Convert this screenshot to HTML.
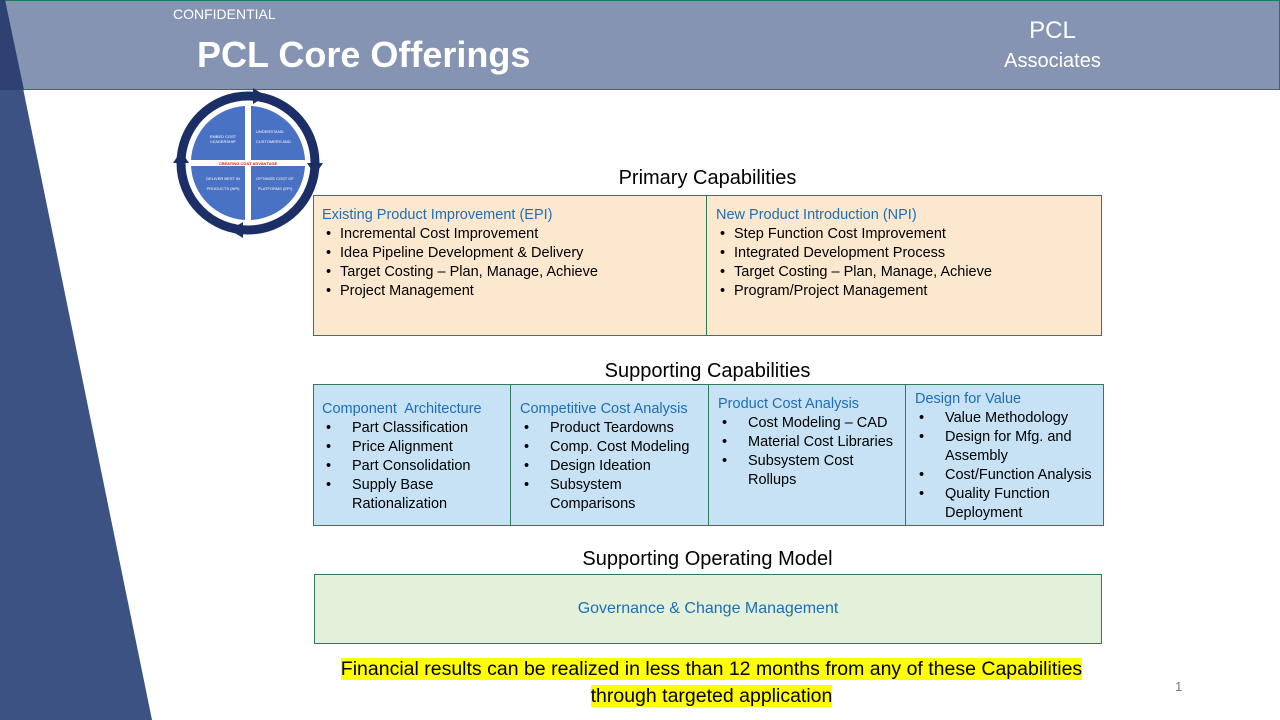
<!DOCTYPE html>
<html><head><meta charset="utf-8"><style>
body{margin:0;width:1280px;height:720px;position:relative;overflow:hidden;background:#fff;font-family:"Liberation Sans",sans-serif;}
.a{position:absolute;}
.box{position:absolute;box-sizing:border-box;border:1px solid #2e7a5a;font-size:14.5px;line-height:19px;color:#000;}
.h{color:#1f6eb5;}
ul{margin:0;padding:0;list-style:none;}
li{position:relative;padding-left:18px;}
li:before{content:"•";position:absolute;left:4px;}
.w li{padding-left:30px;}
.w li:before{left:4px;}
.t{position:absolute;font-size:20px;color:#000;text-align:center;}
</style></head><body>
<div class="a" style="left:0;top:0;width:1280px;height:90px;background:#8594b3;box-sizing:border-box;border:1.5px solid #1e7a5a;"></div>
<svg class="a" style="left:0;top:0" width="1280" height="720">
<polygon points="0,0 5,0 152,720 0,720" fill="#3c5282"/>
<polygon points="0,0 5,0 24,90 0,90" fill="#2d4272"/>
<g transform="translate(248,163)">
<circle r="67" fill="none" stroke="#1b2f66" stroke-width="9"/>
<circle r="61" fill="#fff"/>
<path d="M-3,-3 L-3,-57 A57,57 0 0 0 -57,-3 Z" fill="#4a72c4"/>
<path d="M3,-3 L3,-57 A57,57 0 0 1 57,-3 Z" fill="#4a72c4"/>
<path d="M-3,3 L-3,57 A57,57 0 0 1 -57,3 Z" fill="#4a72c4"/>
<path d="M3,3 L3,57 A57,57 0 0 0 57,3 Z" fill="#4a72c4"/>
<polygon points="5,-75 18,-67 5,-59" fill="#1b2f66"/>
<polygon points="59,0 75,0 67,12" fill="#1b2f66"/>
<polygon points="-5,59 -18,67 -5,75" fill="#1b2f66"/>
<polygon points="-75,0 -59,0 -67,-12" fill="#1b2f66"/>
<text x="0" y="2" font-size="4" fill="#e01010" text-anchor="middle" font-weight="bold">CREATING COST ADVANTAGE</text>
<text x="-25" y="-25" font-size="4" fill="#fff" text-anchor="middle">EMBED COST</text>
<text x="-25" y="-20" font-size="4" fill="#fff" text-anchor="middle">LEADERSHIP</text>
<text x="8" y="-30" font-size="4" fill="#fff">UNDERSTAND</text>
<text x="8" y="-20" font-size="4" fill="#fff">CUSTOMERS AND</text>
<text x="-25" y="17" font-size="4" fill="#fff" text-anchor="middle">DELIVER BEST IN</text>
<text x="-25" y="27" font-size="4" fill="#fff" text-anchor="middle">PRODUCTS (NPI)</text>
<text x="27" y="17" font-size="4" fill="#fff" text-anchor="middle">OPTIMIZE COST OF</text>
<text x="27" y="27" font-size="4" fill="#fff" text-anchor="middle">PLATFORMS (EPI)</text>
</g>
</svg>
<div class="a" style="left:173px;top:6px;color:#fff;font-size:14px;">CONFIDENTIAL</div>
<div class="a" style="left:197px;top:34px;color:#fff;font-size:36px;font-weight:bold;">PCL Core Offerings</div>
<div class="a" style="left:990px;top:17px;width:125px;text-align:center;color:#fff;font-size:24px;">PCL</div>
<div class="a" style="left:990px;top:50px;width:125px;text-align:center;color:#fff;font-size:20px;">Associates</div>

<div class="t" style="left:313px;width:789px;top:167px;">Primary Capabilities</div>
<div class="box" style="left:313px;top:195px;width:394px;height:141px;background:#fbe8cf;padding:10px 8px;"><div class="h">Existing Product Improvement (EPI)</div><ul><li>Incremental Cost Improvement</li><li>Idea Pipeline Development &amp; Delivery</li><li>Target Costing – Plan, Manage, Achieve</li><li>Project Management</li></ul></div>
<div class="box" style="left:706px;top:195px;width:396px;height:141px;background:#fbe8cf;padding:10px 9px;"><div class="h">New Product Introduction (NPI)</div><ul><li>Step Function Cost Improvement</li><li>Integrated Development Process</li><li>Target Costing – Plan, Manage, Achieve</li><li>Program/Project Management</li></ul></div>

<div class="t" style="left:313px;width:789px;top:360px;">Supporting Capabilities</div>
<div class="box w" style="left:313px;top:384px;width:198px;height:142px;background:#c6e2f4;padding:15px 8px;"><div class="h">Component&nbsp; Architecture</div><ul><li>Part Classification</li><li>Price Alignment</li><li>Part Consolidation</li><li>Supply Base Rationalization</li></ul></div>
<div class="box w" style="left:510px;top:384px;width:199px;height:142px;background:#c6e2f4;padding:15px 9px;"><div class="h">Competitive Cost Analysis</div><ul><li>Product Teardowns</li><li>Comp. Cost Modeling</li><li>Design Ideation</li><li>Subsystem Comparisons</li></ul></div>
<div class="box w" style="left:708px;top:384px;width:198px;height:142px;background:#c6e2f4;padding:10px 9px;"><div class="h">Product Cost Analysis</div><ul><li>Cost Modeling – CAD</li><li>Material Cost Libraries</li><li>Subsystem Cost Rollups</li></ul></div>
<div class="box w" style="left:905px;top:384px;width:199px;height:142px;background:#c6e2f4;padding:5px 9px;"><div class="h">Design for Value</div><ul><li>Value Methodology</li><li>Design for Mfg. and Assembly</li><li>Cost/Function Analysis</li><li>Quality Function Deployment</li></ul></div>

<div class="t" style="left:313px;width:789px;top:548px;">Supporting Operating Model</div>
<div class="box" style="left:314px;top:574px;width:788px;height:70px;background:#e3f0da;text-align:center;line-height:68px;font-size:16px;color:#1f6eb5;">Governance &amp; Change Management</div>

<div class="a" style="left:250px;width:923px;top:656px;text-align:center;font-size:19.5px;line-height:27px;"><span style="background:#ffff00;">Financial results can be realized in less than 12 months from any of these Capabilities</span><br><span style="background:#ffff00;">through targeted application</span></div>
<div class="a" style="left:1175px;top:679px;font-size:13px;color:#777;">1</div>
</body></html>
